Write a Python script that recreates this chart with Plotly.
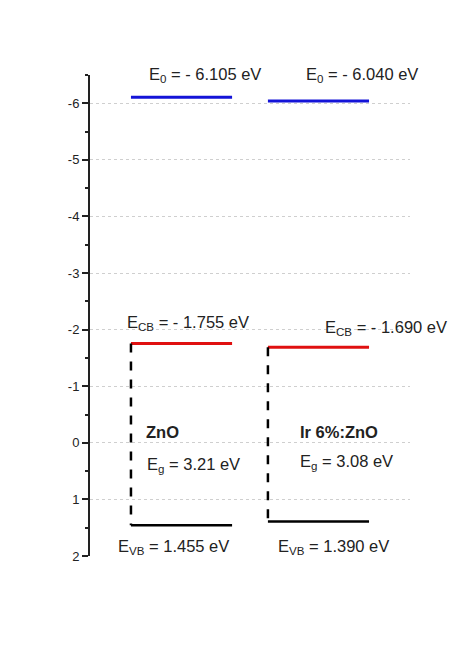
import plotly.graph_objects as go

# ---- data ----
materials = ["ZnO", "Ir 6%:ZnO"]
e_vac = [-6.105, -6.040]      # E0 (eV)
e_cb = [-1.755, -1.690]       # ECB (eV)
e_vb = [1.455, 1.390]         # EVB (eV)
e_gap = [3.21, 3.08]          # Eg (eV)
tick_vals = [-6, -5, -4, -3, -2, -1, 0, 1, 2]
tick_text = ["-6", "-5", "-4", "-3", "-2", "-1", "0", "1", "2"]
minor_vals = [-6.5, -5.5, -4.5, -3.5, -2.5, -1.5, -0.5, 0.5, 1.5]

# ---- layout helpers (positions, not data) ----
x_left = [1.28, 5.56]
x_right = [4.44, 8.72]

fig = go.Figure()
for i, m in enumerate(materials):
    xs = [x_left[i], x_right[i]]
    fig.add_trace(go.Scatter(x=xs, y=[e_vac[i]] * 2, mode="lines",
                             line=dict(color="#1414d8", width=3), showlegend=False))
    fig.add_trace(go.Scatter(x=xs, y=[e_cb[i]] * 2, mode="lines",
                             line=dict(color="#e01010", width=3), showlegend=False))
    fig.add_trace(go.Scatter(x=xs, y=[e_vb[i]] * 2, mode="lines",
                             line=dict(color="black", width=2.5), showlegend=False))
    fig.add_trace(go.Scatter(x=[x_left[i]] * 2, y=[e_cb[i], e_vb[i]], mode="lines",
                             line=dict(color="black", width=2.5, dash="dash"),
                             showlegend=False))

font = dict(family="Liberation Sans, Arial, sans-serif", size=16.5, color="#222222")

PX = 56.6  # pixels per eV, for label offsets
ann_pos = [
    dict(vac=(3.6, -0.40), cb=(3.06, -0.37), name=(2.28, -0.19), gap=(3.22, 0.39), vb=(2.6, 0.385)),
    dict(vac=(8.5, -0.46), cb=(9.25, -0.34), name=(7.78, -0.19), gap=(8.03, 0.34), vb=(7.6, 0.45)),
]
anns = []
for i, m in enumerate(materials):
    p = ann_pos[i]
    anns.append(dict(x=p["vac"][0], y=e_vac[i], yshift=-p["vac"][1] * PX,
                     text=f"E<sub>0</sub> = - {abs(e_vac[i]):.3f} eV"))
    anns.append(dict(x=p["cb"][0], y=e_cb[i], yshift=-p["cb"][1] * PX,
                     text=f"E<sub>CB</sub> = - {abs(e_cb[i]):.3f} eV"))
    anns.append(dict(x=p["name"][0], y=p["name"][1],
                     text=f"<b>{m}</b>"))
    anns.append(dict(x=p["gap"][0], y=p["gap"][1],
                     text=f"E<sub>g</sub> = {e_gap[i]:.2f} eV"))
    anns.append(dict(x=p["vb"][0], y=e_vb[i], yshift=-p["vb"][1] * PX,
                     text=f"E<sub>VB</sub> = {e_vb[i]:.3f} eV"))
for a in anns:
    a.update(xref="x", yref="y", showarrow=False, xanchor="center", yanchor="middle", font=font)

fig.update_layout(
    width=456, height=664,
    margin=dict(l=90, r=46, t=75, b=108),
    paper_bgcolor="white", plot_bgcolor="white",
    annotations=anns,
    xaxis=dict(range=[0, 10], visible=False, showgrid=False, zeroline=False),
    yaxis=dict(range=[2, -6.5], tickvals=tick_vals, ticktext=tick_text,
               showline=True, linecolor="#222222", linewidth=2,
               ticks="outside", ticklen=6, tickwidth=1.5, tickcolor="#222222",
               minor=dict(tickvals=minor_vals, ticks="outside", ticklen=3, tickwidth=1.5,
                          tickcolor="#222222", showgrid=False),
               showgrid=True, gridcolor="#cfcfcf", griddash="dot", gridwidth=1,
               zeroline=False,
               tickfont=dict(family="Liberation Sans, Arial, sans-serif", size=13, color="#222222")),
)
fig.write_html("out.html")
